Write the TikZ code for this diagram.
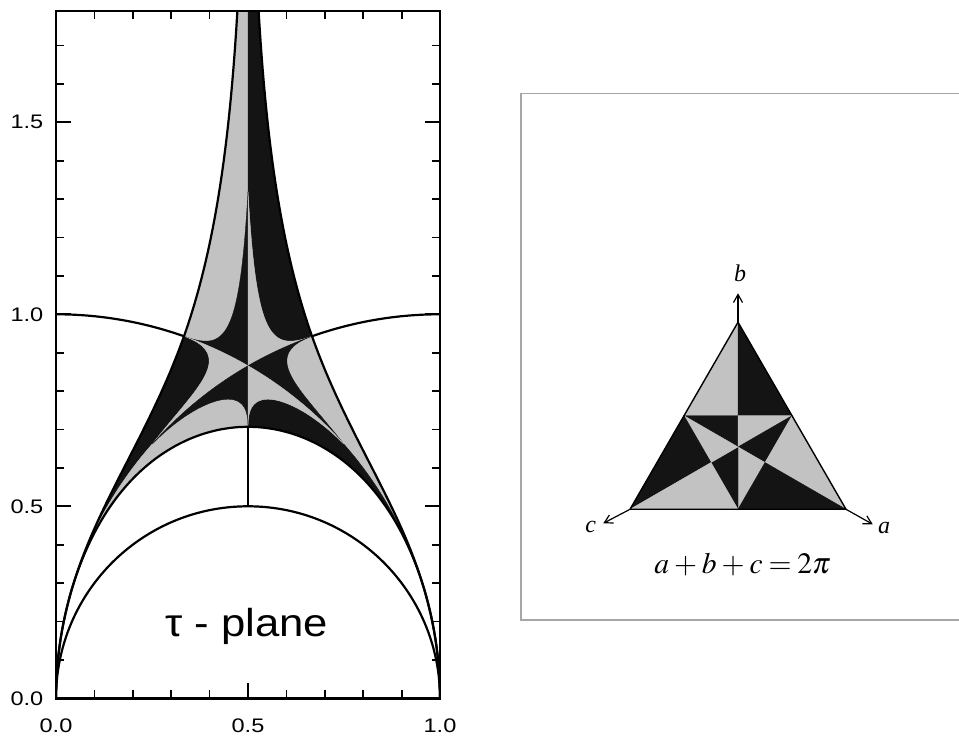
\documentclass[tikz,border=0pt]{standalone}
\usepackage{mathptmx}
\usepackage{fontspec}
\setmainfont{Liberation Serif}
\newfontfamily\axisfont[FakeStretch=1.2]{Liberation Sans}
\newfontfamily\planefont[FakeStretch=1.12]{Liberation Sans}
\usetikzlibrary{calc,arrows.meta}
\colorlet{lightshade}{black!24}
\colorlet{darkshade}{black!92}

\begin{document}
\begin{tikzpicture}[x=0.5pt,y=0.5pt,variable=\t,samples=70,
    declare function={
      gap(\y)=exp(-min(2.12*(\y-0.942809),9))/6;
      ux(\t)=0.5-gap(0.942809/\t);
      uy(\t)=0.942809/\t;
      qx(\t)=(1-\t)*(1-\t)*(1-\t)*0.333333+3*(1-\t)*(1-\t)*\t*0.44+3*(1-\t)*\t*\t*0.478+\t*\t*\t*0.5;
      qy(\t)=(1-\t)*(1-\t)*(1-\t)*0.942809+3*(1-\t)*(1-\t)*\t*0.905+3*(1-\t)*\t*\t*0.93+\t*\t*\t*1.32;
      jx(\x,\y)=\x/(\x*\x+\y*\y);
      jy(\x,\y)=\y/(\x*\x+\y*\y);
      fx(\x,\y)=(1-\x)/((1-\x)*(1-\x)+\y*\y);
      fy(\x,\y)=\y/((1-\x)*(1-\x)+\y*\y);
    },
    curve/.style={line width=1.1pt,line join=round},
    frame/.style={line width=1.4pt},
    tick/.style={line width=0.9pt},
    patch/.style={line width=0.2pt},
    ylab/.style={anchor=east,inner sep=0pt,font=\fontsize{9.8}{11}\axisfont},
    xlab/.style={anchor=north,inner sep=0pt,font=\fontsize{9.8}{11}\axisfont},
    vlab/.style={inner sep=0pt,font=\fontsize{12}{14}\selectfont\itshape},
    arr/.style={-{Straight Barb[length=4pt,width=4.5pt]},line width=0.6pt}
  ]
  \useasboundingbox (0,0) rectangle (959,738);
  \pgfmathsetmacro{\xPL}{0.5/(0.25+1.32*1.32)}
  \pgfmathsetmacro{\yPL}{1.32/(0.25+1.32*1.32)}
  \pgfmathsetmacro{\thPL}{atan2(\yPL,\xPL-1)}

  \begin{scope}[shift={(56,39.7)},x=192pt,y=192pt]
    \begin{scope}
      \clip (0,0) rectangle (1,1.79);
      \foreach \sh/\sc/\lt/\dk in {0/1/lightshade/darkshade,1/-1/darkshade/lightshade}{
        \begin{scope}[shift={(\sh,0)},xscale=\sc]
          \filldraw[patch,fill=\lt,draw=\lt] plot[domain=1:0.45] ({ux(\t)},{uy(\t)})
            -- (0.5,2.2) -- (0.5,1.32) -- plot[domain=1:0,samples=90] ({qx(\t)},{qy(\t)}) -- cycle;
          \filldraw[patch,fill=\dk,draw=\dk] plot[domain=0:1,samples=90] ({qx(\t)},{qy(\t)})
            -- (0.5,0.866025) -- plot[domain=60:70.5288] ({cos(\t)},{sin(\t)}) -- cycle;
          \filldraw[patch,fill=\dk,draw=\dk] (0,0)
            -- plot[domain=0.03:1] ({jx(ux(\t),uy(\t))},{jy(ux(\t),uy(\t))})
            -- plot[domain=0:1,samples=90] ({jx(qx(\t),qy(\t))},{jy(qx(\t),qy(\t))})
            -- plot[domain=\thPL:180] ({1+cos(\t)},{sin(\t)}) -- cycle;
          \filldraw[patch,fill=\lt,draw=\lt] (0,0)
            -- plot[domain=180:\thPL] ({1+cos(\t)},{sin(\t)})
            -- plot[domain=1:0,samples=90] ({fx(qx(\t),qy(\t))},{fy(qx(\t),qy(\t))})
            -- plot[domain=1:0.03] ({fx(ux(\t),uy(\t))},{fy(ux(\t),uy(\t))}) -- cycle;
          \filldraw[patch,fill=\lt,draw=\lt] plot[domain=0:1,samples=90] ({jx(qx(\t),qy(\t))},{jy(qx(\t),qy(\t))})
            -- plot[domain=\thPL:120] ({1+cos(\t)},{sin(\t)})
            -- plot[domain=60:70.5288] ({cos(\t)},{sin(\t)}) -- cycle;
          \filldraw[patch,fill=\dk,draw=\dk] plot[domain=0:1,samples=90] ({fx(qx(\t),qy(\t))},{fy(qx(\t),qy(\t))})
            -- plot[domain=\thPL:120] ({1+cos(\t)},{sin(\t)})
            -- (0.5,0.707107) -- cycle;
        \end{scope}
      }
      \foreach \sh/\sc in {0/1,1/-1}{
        \begin{scope}[shift={(\sh,0)},xscale=\sc]
          \draw[curve] (0,0) -- plot[domain=0.03:1] ({jx(ux(\t),uy(\t))},{jy(ux(\t),uy(\t))})
            -- plot[domain=1:0.45] ({ux(\t)},{uy(\t)});
          \draw[curve] (0,0) -- plot[domain=0.03:1] ({fx(ux(\t),uy(\t))},{fy(ux(\t),uy(\t))});
          \draw[curve] (0,1) arc[start angle=90,end angle=70.5288,radius=1];
        \end{scope}
      }
      \draw[curve] (1,0) arc[start angle=0,end angle=180,radius=0.5];
      \draw[curve] (0.5,0.5) -- (0.5,0.707107);
    \end{scope}
    \draw[frame] (0,0) rectangle (1,1.79);
    \foreach \v in {0.1,0.2,0.3,0.4,0.6,0.7,0.8,0.9}
      \draw[tick] (\v,0) -- (\v,0.021) (\v,1.79) -- (\v,1.769);
    \draw[tick] (0.5,0) -- (0.5,0.039);
    \foreach \v in {0.1,0.2,0.3,0.4,0.6,0.7,0.8,0.9,1.1,1.2,1.3,1.4,1.6,1.7}
      \draw[tick] (0,\v) -- (0.021,\v) (1,\v) -- (0.979,\v);
    \foreach \v in {0.5,1.0,1.5}
      \draw[tick] (0,\v) -- (0.039,\v) (1,\v) -- (0.961,\v);
    \foreach \v [count=\i] in {0.0,0.5,1.0,1.5}
      \node[ylab] (ylab\i) at (-0.032,\v) {\v};
    \foreach \v [count=\i] in {0.0,0.5,1.0}
      \node[xlab] (xlab\i) at (\v,-0.052) {\v};
  \end{scope}
  \node[anchor=base west,inner sep=0pt,font=\fontsize{19.5}{22}\planefont] (planeLab) at (165,101.3) {τ - plane};

  \draw[gray!70,line width=0.6pt] (959,644.7) -- (521,644.7) -- (521,118) -- (959,118);
  \coordinate (T) at (738,415.8);
  \coordinate (BL) at (630,228.7);
  \coordinate (BR) at (846,228.7);
  \coordinate (ML) at ($(T)!0.5!(BL)$);
  \coordinate (MR) at ($(T)!0.5!(BR)$);
  \coordinate (MB) at ($(BL)!0.5!(BR)$);
  \coordinate (PT) at ($(ML)!0.5!(MR)$);
  \coordinate (PL) at ($(ML)!0.5!(MB)$);
  \coordinate (PR) at ($(MR)!0.5!(MB)$);
  \coordinate (C) at ($(T)!0.66667!(MB)$);
  \foreach \pa/\pb/\pc/\col in {T/ML/PT/lightshade,T/PT/MR/darkshade,ML/PT/C/darkshade,
      PT/MR/C/lightshade,MR/PR/C/darkshade,PR/MB/C/lightshade,MB/PL/C/darkshade,
      PL/ML/C/lightshade,BL/ML/PL/darkshade,BL/PL/MB/lightshade,BR/MR/PR/lightshade,
      BR/PR/MB/darkshade}
    \filldraw[patch,fill=\col,draw=\col] (\pa) -- (\pb) -- (\pc) -- cycle;
  \draw[line width=0.7pt,line join=round] (T) -- (BL) -- (BR) -- cycle;
  \coordinate (bTip) at (738,444.7);
  \coordinate (cTip) at (603.3,214.7);
  \coordinate (aTip) at (872.7,213.7);
  \draw[arr] (T) -- (bTip);
  \draw[arr] (BL) -- (cTip);
  \draw[arr] (BR) -- (aTip);
  \node[vlab] (bLab) at (740,465) {b};
  \node[vlab] (cLab) at (590.7,211.3) {c};
  \node[vlab] (aLab) at (884,210) {a};
  \node[anchor=base,inner sep=0pt,font=\fontsize{14.8}{18}\selectfont] (sumLab) at (742.5,164.7)
    {$\medmuskip=3mu\thickmuskip=3.5mu a+b+c=2\pi$};
\end{tikzpicture}
\end{document}
